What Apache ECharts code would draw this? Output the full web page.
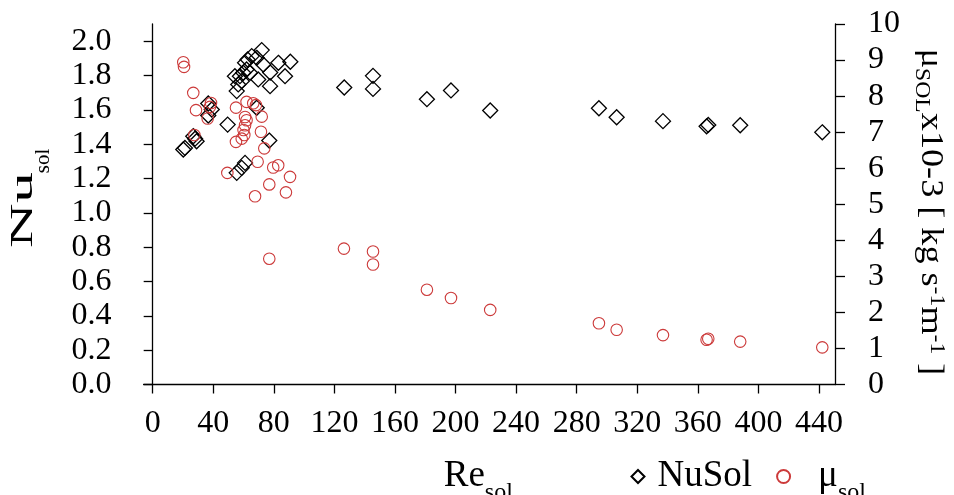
<!DOCTYPE html>
<html><head><meta charset="utf-8">
<script src="https://cdn.jsdelivr.net/npm/echarts@6/dist/echarts.min.js"></script>
<style>html,body{margin:0;padding:0;background:#fff}#c{width:954px;height:495px}</style>
</head><body><div id="c"></div>
<script>
// NuSol (diamonds): Re_sol and Nu_sol
const nuRe = [20.2, 21.3, 26.8, 28.0, 29.0, 36.7, 39.0, 36.7, 49.5, 55.5, 58.8, 61.0, 77.0, 68.7,
  54.3, 57.6, 58.8, 56.5, 55.5, 59.8, 62.0, 64.3, 61.0, 62.7, 65.4, 68.7, 72.0, 73.0, 69.7, 77.5, 77.6, 83.0, 87.4, 90.9,
  126.5, 145.5, 145.5, 181.1, 197.0, 222.9,
  294.7, 306.4, 337.0, 365.8, 366.9, 388.0, 442.2];
const nuVal = [1.369, 1.378, 1.446, 1.432, 1.417, 1.637, 1.602, 1.567, 1.514, 1.233, 1.262, 1.291, 1.421, 1.612,
  1.796, 1.796, 1.767, 1.748, 1.709, 1.816, 1.835, 1.816, 1.874, 1.893, 1.913, 1.903, 1.948, 1.864, 1.777, 1.738, 1.817, 1.874, 1.796, 1.880,
  1.730, 1.798, 1.722, 1.662, 1.713, 1.596,
  1.609, 1.557, 1.534, 1.504, 1.512, 1.510, 1.469];
// mu_sol (circles): Re_sol and viscosity x10-3
const muRe = [20.2, 20.7, 26.8, 28.6, 27.5, 38.5, 37.8, 36.3,
  55.0, 62.0, 66.4, 68.2, 61.0, 62.0, 61.0, 60.0, 60.5, 58.8, 55.0, 72.0, 71.5, 73.7,
  49.3, 69.3, 79.6, 82.9, 90.7, 77.0, 88.0, 67.6, 77.0,
  126.3, 145.5, 145.5, 181.1, 197.0, 222.9,
  294.7, 306.4, 337.0, 365.8, 366.9, 388.0, 442.2];
const muVal = [8.94, 8.81, 8.09, 7.61, 6.92, 7.81, 7.70, 7.38,
  7.68, 7.84, 7.80, 7.75, 7.42, 7.33, 7.19, 7.06, 6.92, 6.82, 6.73, 7.43, 7.01, 6.55,
  5.87, 6.18, 6.02, 6.08, 5.76, 5.55, 5.33, 5.22, 3.49,
  3.77, 3.69, 3.33, 2.63, 2.40, 2.07,
  1.70, 1.52, 1.37, 1.24, 1.27, 1.19, 1.03];
const xTicks = [0, 40, 80, 120, 160, 200, 240, 280, 320, 360, 400, 440];
const nuTicks = [0, 0.2, 0.4, 0.6, 0.8, 1.0, 1.2, 1.4, 1.6, 1.8, 2.0];
const muTicks = [0, 1, 2, 3, 4, 5, 6, 7, 8, 9, 10];

const F = 'Liberation Serif';
const RED = '#cc3a3a';
const ls = {color: '#000', width: 1.3};
const lab = {fontFamily: F, fontSize: 32, color: '#000'};

const chart = echarts.init(document.getElementById('c'));
chart.setOption({
  animation: false,
  backgroundColor: '#fff',
  textStyle: {fontFamily: F},
  grid: {left: 143.6, right: 119, top: 24, bottom: 110.5, containLabel: false, outerBoundsMode: 'none'},
  xAxis: {
    type: 'value', min: -6, max: 450.6,
    axisLine: {show: true, onZero: false, lineStyle: ls},
    axisTick: {show: true, customValues: xTicks, length: 9, lineStyle: ls},
    axisLabel: Object.assign({customValues: xTicks, margin: 23}, lab),
    splitLine: {show: false},
    name: '{a|Re}{b|sol}', nameLocation: 'middle', nameGap: 64, nameMoveOverlap: false,
    nameTextStyle: {padding: [0, 22, 0, 0], rich: {
      a: {fontFamily: F, fontSize: 37, color: '#000'},
      b: {fontFamily: F, fontSize: 24, color: '#000', padding: [32, 0, 0, 0]}
    }}
  },
  yAxis: [{
    type: 'value', position: 'left', min: 0, max: 2.1,
    axisLine: {show: true, onZero: true, lineStyle: ls},
    axisTick: {show: true, customValues: nuTicks, length: 9, lineStyle: ls},
    axisLabel: Object.assign({customValues: nuTicks, margin: 32, formatter: v => v.toFixed(1)}, lab),
    splitLine: {show: false}
  }, {
    type: 'value', position: 'right', min: 0, max: 10,
    axisLine: {show: true, onZero: false, lineStyle: ls},
    axisTick: {show: true, customValues: muTicks, length: 10, lineStyle: ls},
    axisLabel: Object.assign({customValues: muTicks, margin: 33}, lab),
    splitLine: {show: false}
  }],
  graphic: [{
    type: 'text', x: 24, y: 210, rotation: Math.PI / 2, scaleX: 2.0, silent: true,
    style: {text: 'Nu', align: 'center', verticalAlign: 'middle', fontFamily: F, fontSize: 31, fill: '#000'}
  }, {
    type: 'text', x: 43, y: 161, rotation: Math.PI / 2, silent: true,
    style: {text: 'sol', align: 'center', verticalAlign: 'middle', fontFamily: F, fontSize: 21, fill: '#000'}
  }, {
    type: 'text', x: 930, y: 212, rotation: -Math.PI / 2, scaleX: 1.13, silent: true,
    style: {
      text: '{m|μ}{s|SOL}{m|x10-3 [ kg s}{p|-1}{m|m}{p|-1}{m| ]}', align: 'center', verticalAlign: 'middle',
      rich: {
        m: {fontFamily: F, fontSize: 32, fill: '#000'},
        s: {fontFamily: F, fontSize: 21, fill: '#000', padding: [16, 0, 0, 0]},
        p: {fontFamily: F, fontSize: 21, fill: '#000', padding: [0, 0, 14, 0]}
      }
    }
  }],
  legend: {
    show: true, left: 630.5, top: 458, padding: 0, orient: 'horizontal',
    itemWidth: 13, itemHeight: 13, itemGap: 24,
    data: [
      {name: 'NuSol', textStyle: {padding: [0, 0, 0, 8]}},
      {name: 'μsol', textStyle: {padding: [0, 0, 0, 23]}}
    ],
    formatter: n => n === 'μsol' ? '{a|μ}{b|sol}' : '{a|NuSol}',
    textStyle: {rich: {
      a: {fontFamily: F, fontSize: 37, color: '#000'},
      b: {fontFamily: F, fontSize: 24, color: '#000', padding: [32, 0, 0, 0]}
    }}
  },
  series: [{
    name: 'NuSol', type: 'scatter', xAxisIndex: 0, yAxisIndex: 0,
    symbol: 'diamond', symbolSize: 15,
    itemStyle: {color: 'rgba(0,0,0,0)', borderColor: '#000', borderWidth: 1.3, opacity: 1},
    data: nuRe.map((r, i) => [r, nuVal[i]])
  }, {
    name: 'μsol', type: 'scatter', xAxisIndex: 0, yAxisIndex: 1,
    symbol: 'circle', symbolSize: 11.5,
    itemStyle: {color: 'rgba(0,0,0,0)', borderColor: RED, borderWidth: 1.1, opacity: 1},
    data: muRe.map((r, i) => [r, muVal[i]])
  }]
});
</script></body></html>
